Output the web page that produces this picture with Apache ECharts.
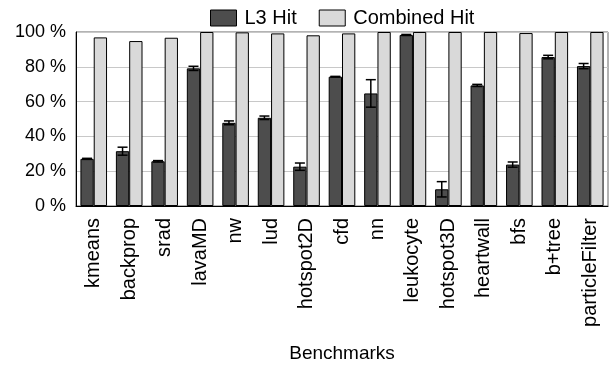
<!DOCTYPE html>
<html>
<head>
<meta charset="utf-8">
<script src="https://cdn.jsdelivr.net/npm/echarts@6/dist/echarts.min.js"></script>
<style>
html,body{margin:0;padding:0;background:#fff;}
#c{width:611px;height:367px;}
</style>
</head>
<body>
<div id="c"></div>
<script>
const categories = ['kmeans','backprop','srad','lavaMD','nw','lud','hotspot2D','cfd','nn','leukocyte','hotspot3D','heartwall','bfs','b+tree','particleFilter'];
const l3Hit = [27.1, 31.5, 25.7, 79.1, 47.8, 50.7, 22.6, 74.3, 64.7, 98.3, 9.6, 69.3, 23.8, 85.6, 80.4];
const l3Err = [0.3, 2.3, 0.4, 1.2, 1.1, 1.0, 2.1, 0.2, 7.9, 0.3, 4.4, 0.6, 1.5, 1.0, 1.5];
const combinedHit = [96.9, 94.8, 96.7, 100, 99.8, 99.2, 98.1, 99.2, 100, 100, 100, 100, 99.4, 100, 100];
const yTicks = [0, 20, 40, 60, 80, 100];

const FONT = 'Liberation Sans, Arial, Helvetica, sans-serif';
const BAR_FRAC = 0.375;

const chart = echarts.init(document.getElementById('c'), null, {renderer: 'canvas'});
const errData = categories.map((c, i) => [i, l3Hit[i], l3Hit[i] - l3Err[i], l3Hit[i] + l3Err[i]]);

chart.setOption({
  animation: false,
  backgroundColor: '#fff',
  textStyle: {fontFamily: FONT},
  legend: {
    top: 3,
    left: 205,
    icon: 'rect',
    itemWidth: 26,
    itemHeight: 16,
    itemGap: 22,
    itemStyle: {borderRadius: 0, borderColor: '#000', borderWidth: 1},
    textStyle: {fontSize: 20, color: '#000', fontFamily: FONT, padding: [0, 0, 0, 3]},
    data: ['L3 Hit', 'Combined Hit']
  },
  grid: {
    left: 76, right: 3, top: 32, bottom: 161,
    show: true, borderColor: '#666', borderWidth: 1, containLabel: false
  },
  xAxis: {
    type: 'category',
    data: categories,
    name: 'Benchmarks',
    nameLocation: 'middle',
    nameGap: 138,
    nameTextStyle: {fontSize: 19, color: '#000', fontFamily: FONT},
    axisLine: {lineStyle: {color: '#000', width: 1}},
    axisTick: {show: false},
    axisLabel: {rotate: 90, fontSize: 20, color: '#000', margin: 12, interval: 0, fontFamily: FONT}
  },
  yAxis: {
    type: 'value',
    min: 0, max: 100, interval: 20,
    axisLine: {show: true, lineStyle: {color: '#000', width: 1}},
    axisTick: {show: false},
    splitLine: {show: true, lineStyle: {color: '#c8c8c8', width: 1}},
    axisLabel: {
      fontSize: 18, color: '#000', margin: 10, fontFamily: FONT,
      formatter: v => yTicks.includes(v) ? v + ' %' : ''
    }
  },
  series: [
    {
      name: 'L3 Hit', type: 'bar', data: l3Hit,
      barWidth: (BAR_FRAC * 100) + '%', barGap: '0%',
      itemStyle: {color: '#4d4d4d', borderColor: '#000', borderWidth: 1}
    },
    {
      name: 'Combined Hit', type: 'bar', data: combinedHit,
      barWidth: (BAR_FRAC * 100) + '%', barGap: '0%',
      itemStyle: {color: '#d9d9d9', borderColor: '#000', borderWidth: 1}
    },
    {
      name: 'err', type: 'custom', data: errData, z: 10,
      encode: {x: 0, y: [2, 3]},
      renderItem: function (params, api) {
        const idx = api.value(0);
        const lo = api.coord([idx, api.value(2)]);
        const hi = api.coord([idx, api.value(3)]);
        const cw = api.size([1, 0])[0];
        const bw = cw * BAR_FRAC;
        const x = lo[0] - bw / 2;
        const cap = 5;
        const style = {stroke: '#000', lineWidth: 1.5, fill: null};
        return {
          type: 'group',
          children: [
            {type: 'line', shape: {x1: x, y1: lo[1], x2: x, y2: hi[1]}, style: style},
            {type: 'line', shape: {x1: x - cap, y1: lo[1], x2: x + cap, y2: lo[1]}, style: style},
            {type: 'line', shape: {x1: x - cap, y1: hi[1], x2: x + cap, y2: hi[1]}, style: style}
          ]
        };
      }
    }
  ]
});
</script>
</body>
</html>
